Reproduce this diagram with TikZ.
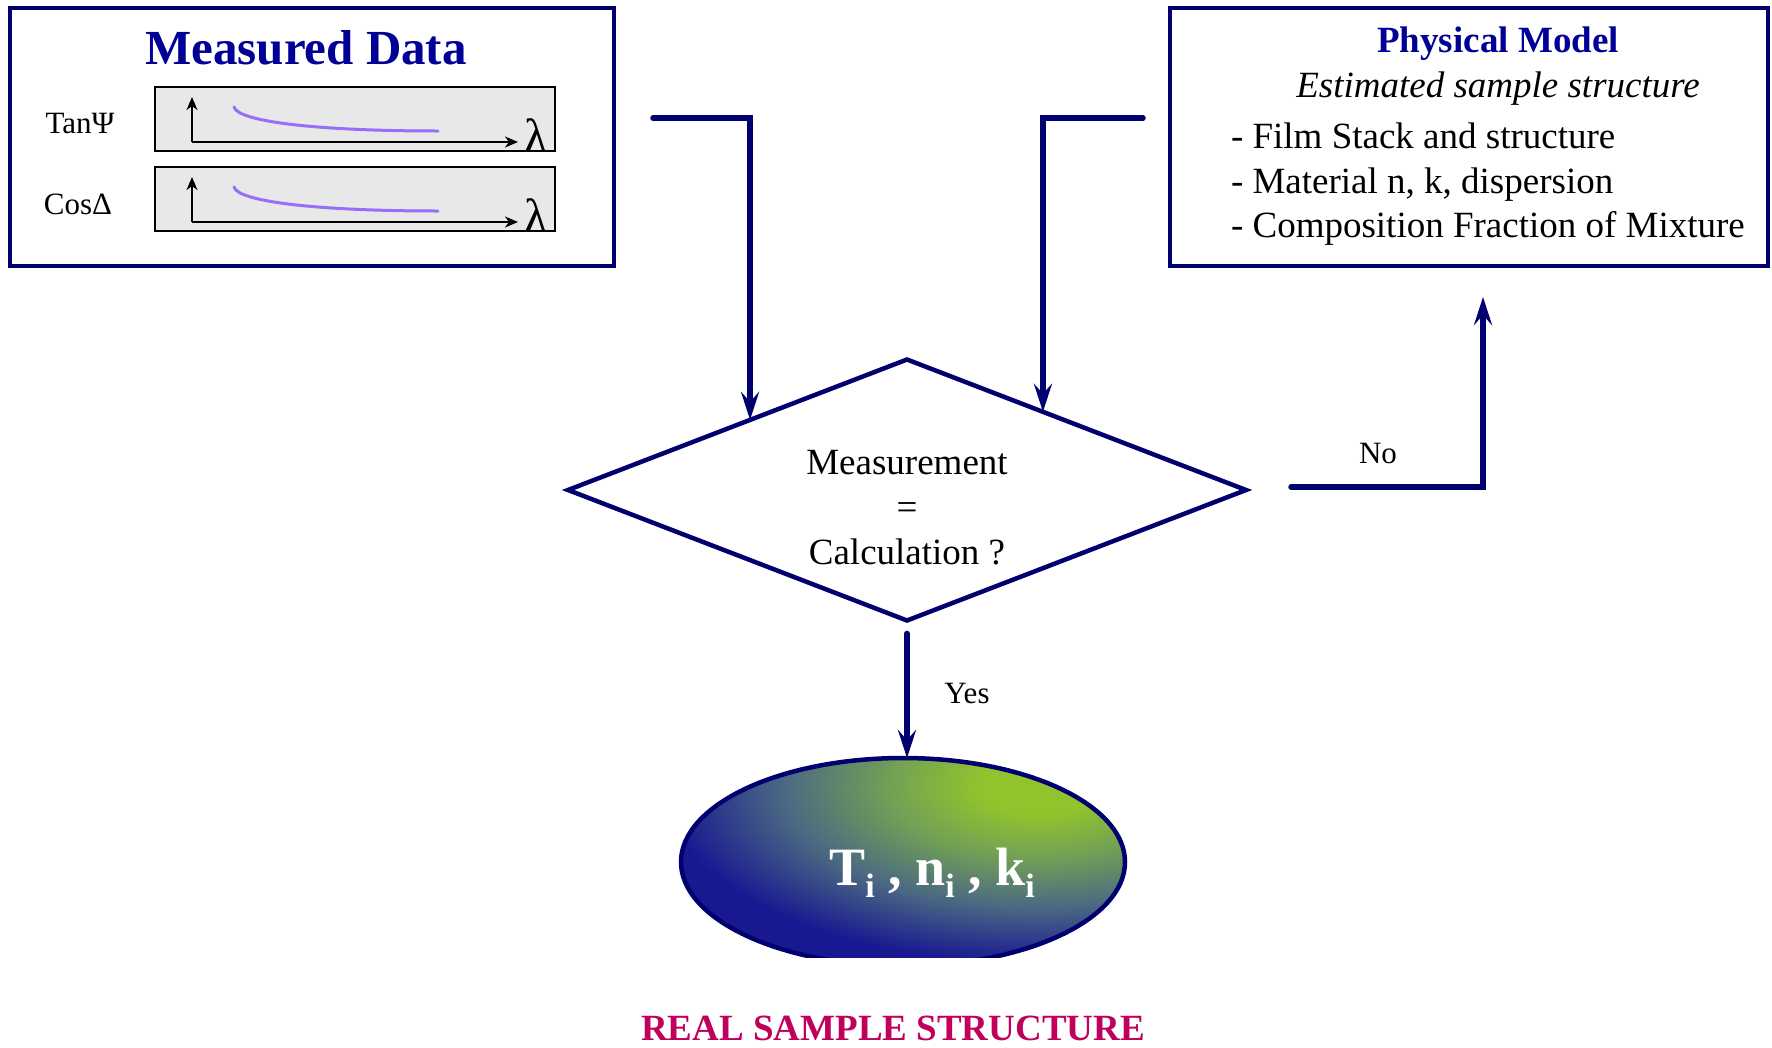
\documentclass[tikz,border=0pt]{standalone}
\usepackage{fontspec}
\setmainfont{Liberation Serif}
\usetikzlibrary{shapes.geometric,arrows.meta,calc}
\definecolor{navyline}{RGB}{0,0,110}
\definecolor{titleblue}{RGB}{0,0,150}
\definecolor{plotgray}{RGB}{232,232,232}
\definecolor{curvepurple}{RGB}{150,110,250}
\definecolor{realred}{RGB}{192,0,90}
\definecolor{ellgreen}{RGB}{145,195,45}
\definecolor{ellolive}{RGB}{115,160,85}
\definecolor{ellmid}{RGB}{75,105,130}
\definecolor{ellblue}{RGB}{24,24,145}
\pgfdeclareradialshading{ellshade}{\pgfpoint{0bp}{0bp}}{color(0bp)=(ellgreen); color(4bp)=(ellgreen); color(10bp)=(ellolive); color(17bp)=(ellmid); color(25bp)=(ellblue); color(50bp)=(ellblue)}
\newcommand{\fsz}[1]{\fontsize{#1}{#1}\selectfont}
\begin{document}
\begin{tikzpicture}[x=1pt,y=-1pt,
  frame/.style={draw=navyline, line width=4.5pt, fill=white, inner sep=0pt, outer sep=0pt},
  plotbox/.style={draw=black, line width=2.5pt, fill=plotgray, inner sep=0pt, outer sep=0pt, minimum width=400pt, minimum height=64pt},
  axis/.style={draw=black, line width=2.5pt, -{Stealth[length=13pt,width=11pt,inset=4pt]}},
  conn/.style={draw=navyline, line width=5.5pt, line cap=round, -{Stealth[length=28pt,width=18pt,inset=10pt]}},
  lbl/.style={inner sep=0pt, outer sep=0pt}
]
\useasboundingbox (0,0) rectangle (1772,1047);

% boxes
\node[frame, minimum width=604pt, minimum height=258pt] (mbox) at (312,137) {};
\node[frame, minimum width=598pt, minimum height=258pt] (pbox) at (1469,137) {};

% measured data
\node[lbl, anchor=base, text=titleblue, font=\fsz{49}\bfseries] (mdt) at (306,64) {Measured Data};
\node[plotbox] (p1) at (355,119) {};
\node[plotbox] (p2) at (355,199) {};
\node[lbl, anchor=base, font=\fsz{31}] (tanl) at (80,133) {TanΨ};
\node[lbl, anchor=base, font=\fsz{31}] (cosl) at (78,214) {CosΔ};
\foreach \p in {p1,p2}{
  \coordinate (\p o) at ($(\p.south west)+(37,-9)$);
  \coordinate (\p t) at ($(\p o)+(0,-45)$);
  \coordinate (\p r) at ($(\p o)+(326,0)$);
  \draw[axis] (\p o) -- (\p t);
  \draw[axis] (\p o) -- (\p r);
  \coordinate (\p a) at ($(\p.south west)+(79,-44)$);
  \coordinate (\p b) at ($(\p.south west)+(83,-29)$);
  \coordinate (\p c) at ($(\p.south west)+(165,-20)$);
  \coordinate (\p d) at ($(\p.south west)+(283,-20)$);
  \draw[curvepurple, line width=3pt, line cap=round] (\p a) .. controls (\p b) and (\p c) .. (\p d);
  \node[lbl, anchor=base, font=\fsz{48}] (\p l) at ($(\p.south west)+(381,1)$) {λ};
}

% physical model
\node[lbl, anchor=base, text=titleblue, font=\fsz{37}\bfseries] (pmt) at (1498,52) {Physical Model};
\node[lbl, anchor=base, font=\fsz{37}\itshape] (est) at (1498,97) {Estimated sample structure};
\node[lbl, anchor=base west, font=\fsz{37}] (b1) at (1231,148) {- Film Stack and structure};
\node[lbl, anchor=base west, font=\fsz{37}] (b2) at (1231,193) {- Material n, k, dispersion};
\node[lbl, anchor=base west, font=\fsz{37}] (b3) at (1231,237) {- Composition Fraction of Mixture};

% decision
\node[diamond, draw=navyline, line width=4.5pt, minimum width=678pt, minimum height=261pt, inner sep=0pt, outer sep=0pt, aspect=2.6] (dia) at (907,490) {};
\node[lbl, align=center, font=\fontsize{37}{45}\selectfont] (dtx) at (907,508) {Measurement\\=\\Calculation ?};

% result ellipse
\begin{scope}
\clip (0,0) rectangle (1772,957);
\node[ellipse, fill=ellblue, minimum width=444pt, minimum height=208pt, inner sep=0pt, outer sep=0pt] (res) at (903,862) {};
\begin{scope}
\clip (res.center) ellipse (222pt and 104pt);
\begin{scope}[transform canvas={shift={(1038,786)}, xscale=2.1}]
\shade[shading=ellshade] (0,0) circle (178pt);
\end{scope}
\end{scope}
\draw[navyline, line width=4.5pt] (res.center) ellipse (222pt and 104pt);
\end{scope}
\node[lbl, anchor=base, text=white, font=\fsz{54}\bfseries] (tnk) at (932,885) {T\raisebox{-12pt}{\fsz{34}i} , n\raisebox{-12pt}{\fsz{34}i} , k\raisebox{-12pt}{\fsz{34}i}};
\node[lbl, anchor=base, text=realred, font=\fsz{37}\bfseries] (real) at (893,1040) {REAL SAMPLE STRUCTURE};

% connectors
\coordinate (lstart) at (653,118);
\coordinate (lend) at ($(dia.north)!0.463!(dia.west)$);
\draw[conn] (lstart) -| (lend);
\coordinate (rstart) at (1143,118);
\coordinate (rend) at ($(dia.north)!0.401!(dia.east)$);
\draw[conn] (rstart) -| (rend);
\coordinate (nostart) at (1291,487);
\coordinate (noend) at (1483,297);
\draw[conn] (nostart) -| (noend);
\draw[conn, shorten <=13pt] (dia.south) -- (dia.south |- res.north);

\node[lbl, font=\fsz{31}] (no) at (1378,453) {No};
\node[lbl, font=\fsz{31}] (yes) at (967,693) {Yes};
\end{tikzpicture}
\end{document}
